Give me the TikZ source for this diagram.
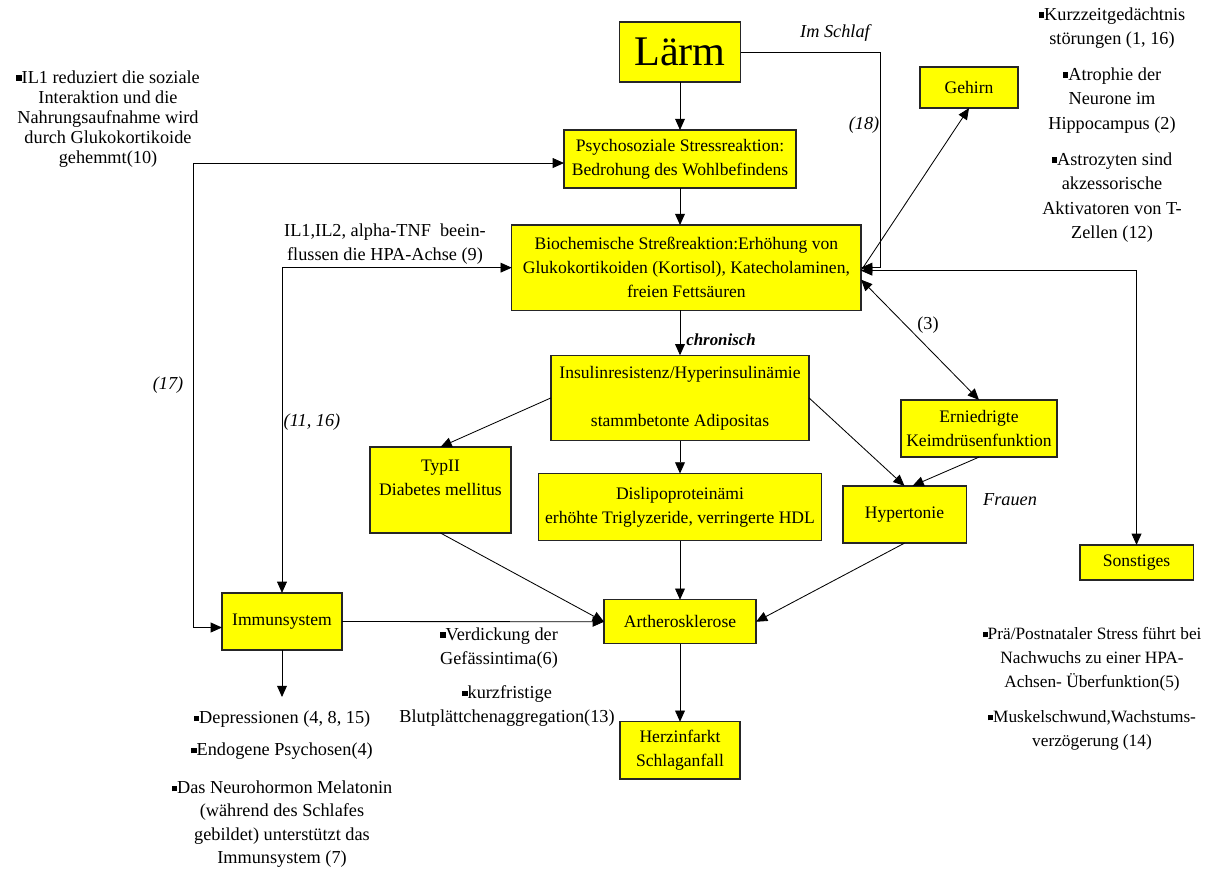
\documentclass[tikz,border=0pt]{standalone}
\usepackage{fontspec}
\setmainfont{Liberation Serif}
\usetikzlibrary{positioning,arrows.meta}
\definecolor{boxyellow}{RGB}{255,255,0}
\newcommand{\qbul}{\rule[0.3ex]{0.3em}{0.3em}}
\tikzset{
box/.style={draw=black!85, line width=0.9pt, fill=boxyellow, align=center, inner sep=0pt, outer sep=0pt, font=\fontsize{12.5}{17}\selectfont},
note/.style={align=center, inner sep=0pt, font=\fontsize{13}{17}\selectfont},
lbl/.style={inner sep=0pt, font=\fontsize{13}{17}\selectfont\itshape},
arr/.style={-{Triangle[length=8pt,width=7pt]}, line width=0.6pt},
dblarr/.style={{Triangle[length=8pt,width=7pt]}-{Triangle[length=8pt,width=7pt]}, line width=0.6pt},
}

\begin{document}
\begin{tikzpicture}[x=0.025cm, y=-0.025cm]
\useasboundingbox (0,0) rectangle (1207,869);

\node [box, minimum width=3.03cm, minimum height=1.5cm, font=\fontsize{30}{34}\selectfont] (laerm) at (680,52) {Lärm};
\node [box, below = 1.2cm of laerm, minimum width=5.8cm, minimum height=1.45cm] (psych) {Psychosoziale Stressreaktion:\\Bedrohung des Wohlbefindens};
\node [box, below = 0.925cm of psych, xshift=0.16cm, minimum width=8.73cm, minimum height=2.13cm] (bio) {Biochemische Streßreaktion:Erhöhung von\\Glukokortikoiden (Kortisol), Katecholaminen,\\freien Fettsäuren};
\node [box, below = 1.125cm of bio, xshift=-0.16cm, minimum width=6.45cm, minimum height=2.13cm] (insul) {Insulinresistenz/Hyperinsulinämie\\\mbox{}\\stammbetonte Adipositas};
\node [box, below = 0.825cm of insul, minimum width=7.08cm, minimum height=1.68cm] (dlp) {Dislipoproteinämi\\erhöhte Triglyzeride, verringerte HDL};
\node [box, below = 1.475cm of dlp, minimum width=3.8cm, minimum height=1.1cm] (arth) {Artherosklerose};
\node [box, below = 1.95cm of arth, minimum width=3cm, minimum height=1.43cm] (herz) {Herzinfarkt\\Schlaganfall};

\node [box, minimum width=3.53cm, minimum height=2.15cm] (typ) at (440.5,490) {TypII\\Diabetes mellitus\\\mbox{}};
\node [box, minimum width=3.08cm, minimum height=1.43cm] (hyp) at (904.5,514.5) {Hypertonie};
\node [box, minimum width=3.9cm, minimum height=1.43cm] (keim) at (979,428.5) {Erniedrigte\\Keimdrüsenfunktion};
\node [box, minimum width=2.45cm, minimum height=1.03cm] (hirn) at (969,87.5) {Gehirn};
\node [box, minimum width=2.83cm, minimum height=0.88cm] (sonst) at (1136.5,562.5) {Sonstiges};
\node [box, minimum width=3cm, minimum height=1.43cm] (immun) at (282,621.5) {Immunsystem};
\coordinate (immunend) at (282,697);

\draw [arr] (laerm) -- (psych);
\draw [arr] (psych.south) -- (psych.south |- bio.north);
\draw [arr] (insul.north |- bio.south) -- (insul.north);
\draw [arr] (insul) -- (dlp);
\draw [arr] (dlp) -- (arth);
\draw [arr] (arth) -- (herz);
\draw [arr] (laerm.east) -| ([xshift=0.475cm]bio.east) -- (bio.east);
\draw [arr] ([yshift=-0.075cm]bio.east) -- (hirn.south);
\draw [dblarr] ([yshift=-0.075cm]bio.east) -| (sonst.north);
\draw [dblarr] ([yshift=-0.3cm]bio.east) -- (keim.north);
\draw [arr] (insul.west) -- (typ.north);
\draw [arr] (insul.east) -- (hyp.north);
\draw [arr] (keim.south) -- ([xshift=0.2cm]hyp.north);
\draw [arr] (typ.south) -- (arth.west);
\draw [arr] (hyp.south) -- (arth.east);
\draw [arr] (immun.east) -- (arth.west);
\draw [arr] (immun.south) -- (immunend);
\draw [dblarr] ([yshift=-0.15cm]immun.west) -- ++(-29,0) |- ([yshift=-0.1cm]psych.west);
\draw [dblarr] (immun.north) |- (bio.west);

\node [lbl] (schlaf) at (835,33) {Im Schlaf};
\node [lbl] (n18) at (864,125) {(18)};
\node [lbl] (n17) at (168,385) {(17)};
\node [lbl] (n1116) at (312,422) {(11, 16)};
\node [lbl] (frauen) at (1010,500) {Frauen};
\node [note] (n3) at (928,325) {(3)};
\node [lbl, font=\fontsize{12}{14}\selectfont\bfseries\itshape] (chron) at (721,340) {chronisch};
\node [note] (hpa) at (385,244) {IL1,IL2, alpha-TNF\ \ beein-\\flussen die HPA-Achse (9)};

\node [note, font=\fontsize{13}{14.2}\selectfont] (il1) at (108,119) {\qbul IL1 reduziert die soziale\\Interaktion und die\\Nahrungsaufnahme wird\\durch Glukokortikoide\\gehemmt(10)};
\node [note, font=\fontsize{13}{17.4}\selectfont] (gedaechtnis) at (1112,125) {\qbul Kurzzeitgedächtnis\\störungen (1, 16)\\[8pt]\qbul Atrophie der\\Neurone im\\Hippocampus (2)\\[8pt]\qbul Astrozyten sind\\akzessorische\\Aktivatoren von T-\\Zellen (12)};
\node [note] (intima) at (499,648) {\qbul Verdickung der\\Gefässintima(6)};
\node [note] (blut) at (507,706) {\qbul kurzfristige\\Blutplättchenaggregation(13)};
\node [note, font=\fontsize{13}{16.4}\selectfont] (depr) at (282,789) {\qbul Depressionen (4, 8, 15)\\[6.4pt]\qbul Endogene Psychosen(4)\\[10.7pt]\qbul Das Neurohormon Melatonin\\(während des Schlafes\\gebildet) unterstützt das\\Immunsystem (7)};
\node [note, font=\fontsize{12.3}{17}\selectfont] (praenatal) at (1092,689) {\qbul Prä/Postnataler Stress führt bei\\Nachwuchs zu einer HPA-\\Achsen- Überfunktion(5)\\[8pt]\qbul Muskelschwund,Wachstums-\\verzögerung (14)};
\end{tikzpicture}
\end{document}
